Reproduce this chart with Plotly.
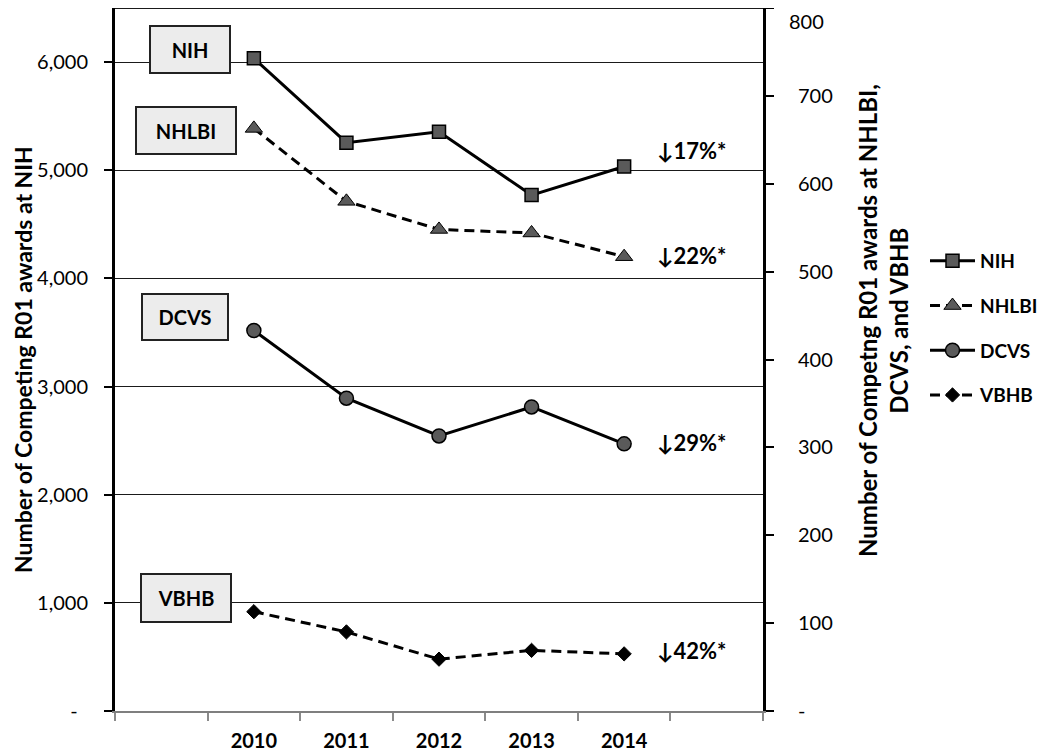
import plotly.graph_objects as go

# ---- data ----
years = ["2010", "2011", "2012", "2013", "2014"]
nih = [6035, 5255, 5355, 4770, 5035]          # left axis
nhlbi = [663, 580, 548, 544, 517]              # right axis
dcvs = [433, 356, 313, 346, 304]               # right axis
vbhb = [113, 90, 59, 69, 65]                   # right axis
left_ticks = [0, 1000, 2000, 3000, 4000, 5000, 6000]
left_ticktext = ["-\u00a0\u00a0", "1,000", "2,000", "3,000", "4,000", "5,000", "6,000"]
right_ticks = [0, 100, 200, 300, 400, 500, 600, 700, 800]
right_ticktext = ["-", "100", "200", "300", "400", "500", "600", "700", "800"]
pct_labels = ["↓17%*", "↓22%*", "↓29%*", "↓42%*"]
box_labels = ["NIH", "NHLBI", "DCVS", "VBHB"]

# page geometry (page has an 8px body margin around the plot div)
OFF = 8
PAGE_W, PAGE_H = 1050, 754
W, H = PAGE_W - OFF, PAGE_H - OFF
L, R, T, B = 115, 763, 8, 711          # plot area in page pixels
XR = [-0.5, 6.5]
YL = [0, 6500]
YR = [0, 800]

xpos = [i + 1 for i in range(len(years))]

FONT = "Lato, 'DejaVu Sans', sans-serif"
MFILL = "#5a5a5a"


def px2x(px):
    return XR[0] + (px - L) / (R - L) * (XR[1] - XR[0])


def px2y(py):
    return YL[0] + (B - py) / (B - T) * (YL[1] - YL[0])


def paperx(px):
    return (px - L) / (R - L)


def papery(py):
    return 1 - (py - T) / (B - T)


fig = go.Figure()
fig.add_trace(go.Scatter(
    x=xpos, y=nih, name="NIH", mode="lines+markers", yaxis="y",
    line=dict(color="black", width=3),
    marker=dict(symbol="square", size=13, color=MFILL, line=dict(color="black", width=1.5)),
    legendgroup="a"))
fig.add_trace(go.Scatter(
    x=xpos, y=nhlbi, name="NHLBI", mode="lines+markers", yaxis="y2",
    line=dict(color="black", width=3, dash="10px,6px"),
    marker=dict(symbol="triangle-up", size=15, color=MFILL, line=dict(color="black", width=1)),
    legendgroup="b"))
fig.add_trace(go.Scatter(
    x=xpos, y=dcvs, name="DCVS", mode="lines+markers", yaxis="y2",
    line=dict(color="black", width=3),
    marker=dict(symbol="circle", size=14, color=MFILL, line=dict(color="black", width=1.5)),
    legendgroup="c"))
fig.add_trace(go.Scatter(
    x=xpos, y=vbhb, name="VBHB", mode="lines+markers", yaxis="y2",
    line=dict(color="black", width=3, dash="10px,6px"),
    marker=dict(symbol="diamond", size=11, color="black", line=dict(color="black", width=1)),
    legendgroup="d"))

annotations = []
# category boxes (center px, width, height) in page pixels
boxes = [(190, 49.5, 82, 49), (186, 130.5, 102, 49), (185, 317, 88, 48), (186, 598, 92, 50)]
for lab, (cx, cy, bw, bh) in zip(box_labels, boxes):
    annotations.append(dict(
        x=px2x(cx), y=px2y(cy), xref="x", yref="y", text="<b>%s</b>" % lab,
        showarrow=False, font=dict(family=FONT, size=20, color="black"),
        bgcolor="#ececec", bordercolor="#222222", borderwidth=2, borderpad=0,
        width=bw - 4, height=bh - 4, xanchor="center", yanchor="middle"))

# percent change labels (left edge px, center y px)
pcts = [(655, 150), (655, 255), (655, 442), (655, 650)]
for lab, (lx, cy) in zip(pct_labels, pcts):
    annotations.append(dict(
        x=px2x(lx), y=px2y(cy), xref="x", yref="y", text="<b>%s</b>" % lab,
        showarrow=False, font=dict(family=FONT, size=22, color="black"),
        xanchor="left", yanchor="middle"))

# axis titles
annotations.append(dict(
    x=paperx(OFF), y=papery(360), xref="paper", yref="paper",
    text="<b>Number of Competing R01 awards at NIH</b>", textangle=-90,
    showarrow=False, font=dict(family=FONT, size=23, color="black"),
    xanchor="left", yanchor="middle", borderpad=0))
annotations.append(dict(
    x=paperx(883), y=papery(321), xref="paper", yref="paper",
    text="<b>Number of Competng R01 awards at NHLBI,<br>DCVS, and VBHB</b>", textangle=-90,
    showarrow=False, font=dict(family=FONT, size=24, color="black"),
    xanchor="center", yanchor="middle", align="center"))

# top right-axis label (would be clipped at the page edge as a tick label)
right_labels_shown = list(right_ticktext)
right_labels_shown[-1] = ""
annotations.append(dict(
    x=paperx(788), y=1, xref="paper", yref="paper", text=right_ticktext[-1],
    showarrow=False, font=dict(family=FONT, size=20, color="black"),
    xanchor="left", yanchor="top", borderpad=0))

fig.update_layout(
    width=W, height=H,
    margin=dict(l=L - OFF, r=PAGE_W - R, t=T - OFF, b=PAGE_H - B, pad=0, autoexpand=False),
    paper_bgcolor="white", plot_bgcolor="white",
    font=dict(family=FONT, color="black"),
    showlegend=True,
    legend=dict(
        x=paperx(925), y=papery(242), xanchor="left", yanchor="top",
        font=dict(family=FONT, size=19, color="black", weight="bold"),
        itemwidth=45, tracegroupgap=17, bgcolor="rgba(0,0,0,0)"),
    xaxis=dict(
        range=XR, tickmode="array", tickvals=xpos,
        ticktext=["<b>%s</b>" % y for y in years],
        tickfont=dict(family=FONT, size=20, color="black"),
        ticks="", showgrid=False, zeroline=False, automargin=False,
        showline=True, linecolor="#7f7f7f", linewidth=2,
        ticklabelstandoff=11,
        minor=dict(tickmode="array", tickvals=[XR[0] + i for i in range(8)],
                   ticks="outside", ticklen=8, tickcolor="#8a8a8a", tickwidth=1.5, showgrid=False)),
    yaxis=dict(
        range=YL, tickmode="array", tickvals=left_ticks, ticktext=left_ticktext,
        tickfont=dict(family=FONT, size=20, color="black"),
        ticks="outside", ticklen=8, tickcolor="black", tickwidth=1.5,
        showgrid=True, gridcolor="#1a1a1a", gridwidth=1, zeroline=False, automargin=False,
        showline=True, linecolor="black", linewidth=3, ticklabelstandoff=12),
    yaxis2=dict(
        range=YR, overlaying="y", side="right", tickmode="array",
        tickvals=right_ticks, ticktext=right_labels_shown,
        tickfont=dict(family=FONT, size=20, color="black"),
        ticks="outside", ticklen=8, tickcolor="black", tickwidth=1.5,
        showgrid=False, zeroline=False, automargin=False,
        showline=True, linecolor="black", linewidth=3, ticklabelstandoff=20),
    annotations=annotations,
    shapes=[dict(type="line", xref="paper", yref="paper", x0=0, x1=1, y0=1, y1=1,
                 line=dict(color="#1a1a1a", width=2))],
)

fig.write_html("out.html")
